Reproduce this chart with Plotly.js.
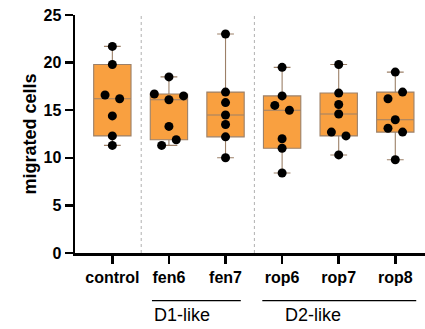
<!DOCTYPE html>
<html>
<head>
<meta charset="utf-8">
<script src="https://cdn.plot.ly/plotly-3.0.1.min.js"></script>
<style>html,body{margin:0;padding:0;background:#fff;}#chart{width:425px;height:329px;}</style>
</head>
<body>
<div id="chart"></div>
<script>
// ---- data ----
const categories = ["control", "fen6", "fen7", "rop6", "rop7", "rop8"];
const control = [21.7, 19.8, 16.6, 16.2, 14.4, 12.3, 11.3];
const fen6 = [18.5, 16.7, 16.1, 16.5, 13.3, 11.3, 11.9];
const fen7 = [23.0, 16.9, 15.8, 14.5, 13.5, 12.2, 10.0];
const rop6 = [19.5, 16.5, 15.5, 15.0, 12.0, 11.0, 8.4];
const rop7 = [19.8, 16.8, 15.6, 14.6, 12.7, 12.3, 10.3];
const rop8 = [19.0, 16.2, 16.9, 14.0, 13.1, 12.7, 9.8];
const groupLabels = ["D1-like", "D2-like"];
const yTicks = [0, 5, 10, 15, 20, 25];

const series = [control, fen6, fen7, rop6, rop7, rop8];

// ---- layout geometry ----
const W = 425, H = 329;
const margin = {l: 75, r: 0, t: 15, b: 76, pad: 0};
const xRange = [-0.66, 5.525];
const yRange = [0, 25];
const plotW = W - margin.l - margin.r;
const plotH = H - margin.t - margin.b;
const pxPerX = plotW / (xRange[1] - xRange[0]);
const pxPerY = plotH / (yRange[1] - yRange[0]);

// simple beeswarm: points whose values are close share a row and are spread sideways
function swarm(vals, center) {
  const order = vals.map((v, i) => i).sort((a, b) => vals[b] - vals[a]);
  const rowTol = 7.8 / pxPerY;
  const step = 14.6 / pxPerX;
  const xs = new Array(vals.length);
  let g = [];
  const flush = () => {
    g.sort((a, b) => a - b);
    g.forEach((idx, j) => { xs[idx] = center + (j - (g.length - 1) / 2) * step; });
    g = [];
  };
  order.forEach(idx => {
    if (g.length && vals[g[0]] - vals[idx] > rowTol) flush();
    g.push(idx);
  });
  flush();
  return xs;
}

const traces = [];
series.forEach((vals, i) => {
  traces.push({
    type: 'box',
    x: vals.map(() => i),
    y: vals,
    width: 0.66,
    boxpoints: false,
    quartilemethod: 'exclusive',
    whiskerwidth: 0.45,
    fillcolor: '#F9A040',
    line: {color: '#9c8068', width: 1.1},
    hoverinfo: 'skip',
    showlegend: false
  });
});
series.forEach((vals, i) => {
  traces.push({
    type: 'scatter',
    mode: 'markers',
    x: swarm(vals, i),
    y: vals,
    marker: {color: '#000', size: 9},
    hoverinfo: 'skip',
    showlegend: false
  });
});

const shapes = [];
[0.51, 2.51].forEach(xv => {
  shapes.push({type: 'line', xref: 'x', yref: 'y', x0: xv, x1: xv, y0: 0, y1: 25,
    line: {color: '#b0b0b0', width: 1, dash: '3px,3px'}, layer: 'below'});
});
const groupSpans = [[0.70, 2.27], [2.65, 5.37]];
const groupTextX = [0.70, 3.01];
groupSpans.forEach(s => {
  shapes.push({type: 'line', xref: 'x', yref: 'paper', x0: s[0], x1: s[1], y0: -0.2, y1: -0.2,
    line: {color: '#000', width: 1.3}});
});
const annotations = groupLabels.map((t, k) => ({
  text: t, xref: 'x', yref: 'paper', x: groupTextX[k], y: -0.262,
  xanchor: 'left', yanchor: 'middle', showarrow: false,
  font: {family: 'Liberation Sans, Arial, sans-serif', size: 18, color: '#000'}
}));

const layout = {
  width: W, height: H,
  margin: margin,
  paper_bgcolor: '#fff', plot_bgcolor: '#fff',
  showlegend: false,
  font: {family: 'Liberation Sans, Arial, sans-serif', color: '#000'},
  xaxis: {
    range: xRange, tickmode: 'array', tickvals: categories.map((c, i) => i), ticktext: categories,
    showgrid: false, zeroline: false, showline: true, linecolor: '#000', linewidth: 2.5,
    ticks: 'outside', ticklen: 8, tickwidth: 2.5, tickcolor: '#000',
    tickfont: {size: 16, weight: 'bold', family: 'Liberation Sans, Arial, sans-serif'},
    fixedrange: true
  },
  yaxis: {
    range: yRange, tickmode: 'array', tickvals: yTicks,
    showgrid: false, zeroline: false, showline: true, linecolor: '#000', linewidth: 2.5,
    ticks: 'outside', ticklen: 8, tickwidth: 2.5, tickcolor: '#000',
    tickfont: {size: 16, weight: 'bold', family: 'Liberation Sans, Arial, sans-serif'},
    title: {text: 'migrated cells', font: {size: 18, weight: 'bold', family: 'Liberation Sans, Arial, sans-serif'}, standoff: 2},
    fixedrange: true
  },
  shapes: shapes,
  annotations: annotations
};

Plotly.newPlot('chart', traces, layout, {displayModeBar: false, staticPlot: true});
</script>
</body>
</html>
